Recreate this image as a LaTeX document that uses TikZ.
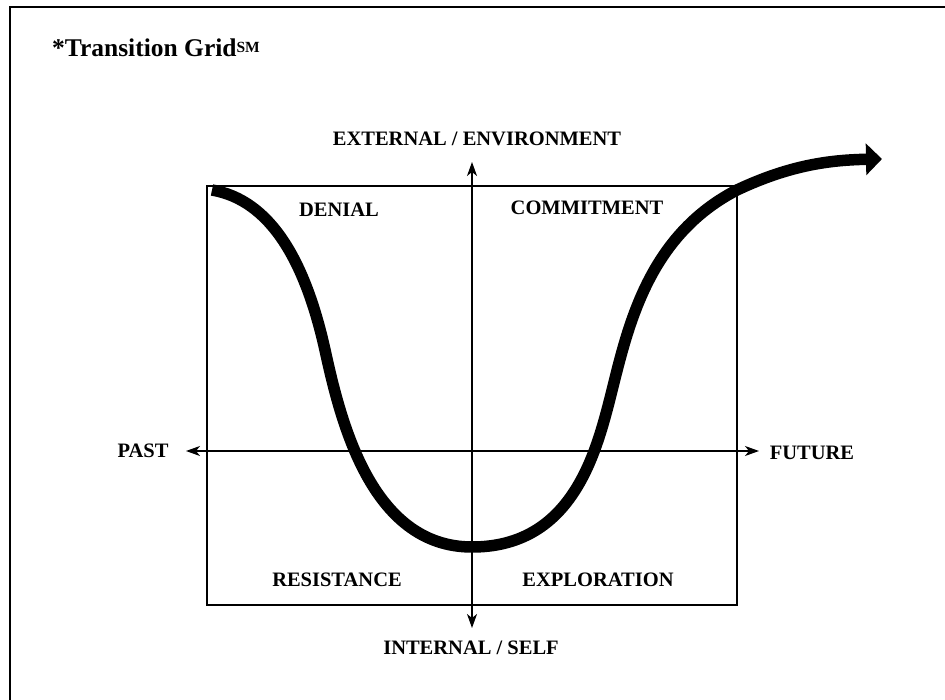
\documentclass[tikz,border=0pt]{standalone}
\usepackage{fontspec}
\setmainfont{Liberation Serif}
\usetikzlibrary{positioning,arrows.meta}

\begin{document}
\begin{tikzpicture}[x=1pt,y=-1pt]
    \tikzstyle{every node}=[inner sep=0,font=\bfseries\fontsize{20.5}{24}\selectfont]
    \tikzstyle{word}=[anchor=base]
    \tikzstyle{frame}=[line width=1.5]
    \tikzstyle{axis}=[line width=1.4,{Stealth[length=14pt,width=10pt,inset=4pt]}-{Stealth[length=14pt,width=10pt,inset=4pt]}]
    \tikzstyle{wave}=[line width=11.5,-{Triangle[length=16pt,width=31pt]}]
    {
        \useasboundingbox (0,0) rectangle (945,700);
        \draw[frame] (10,700) -- (10,7) -- (945,7);

        \node[anchor=base west,font=\bfseries\fontsize{25.5}{30}\selectfont] (title) at (52,57)
            {*Transition Grid\raisebox{4pt}{\fontsize{15.5}{16}\selectfont SM}};

        \node[word] (ext) at (477,146) {EXTERNAL / ENVIRONMENT};
        \node[word] (int) at (471,654) {INTERNAL / SELF};
        \node[word] (past) at (143,457) {PAST};
        \node[word] (future) at (812,459) {FUTURE};

        \node[word] (denial) at (339,217) {DENIAL};
        \node[word] (commit) at (587,215) {COMMITMENT};
        \node[word] (resist) at (337,586) {RESISTANCE};
        \node[word] (explore) at (598,586) {EXPLORATION};

        \draw[frame] (207,186) rectangle (737,605);

        \coordinate (up) at (472,162);
        \coordinate (down) at (472,628);
        \coordinate (back) at (186,451);
        \coordinate (ahead) at (759,451);
        \draw[axis] (down) -- (up);
        \draw[axis] (back) -- (ahead);

        \coordinate (w0) at (212,190);
        \coordinate (w1) at (472,547);
        \coordinate (w2) at (882,159);
        \draw[wave] (w0) .. controls (270,200) and (305,260) .. (325,350)
            .. controls (340,418) and (370,547) .. (w1)
            .. controls (565,547) and (592,466) .. (607,410)
            .. controls (625,343) and (640,240) .. (737,190)
            .. controls (790,165) and (830,160) .. (w2);
    }
\end{tikzpicture}
\end{document}
